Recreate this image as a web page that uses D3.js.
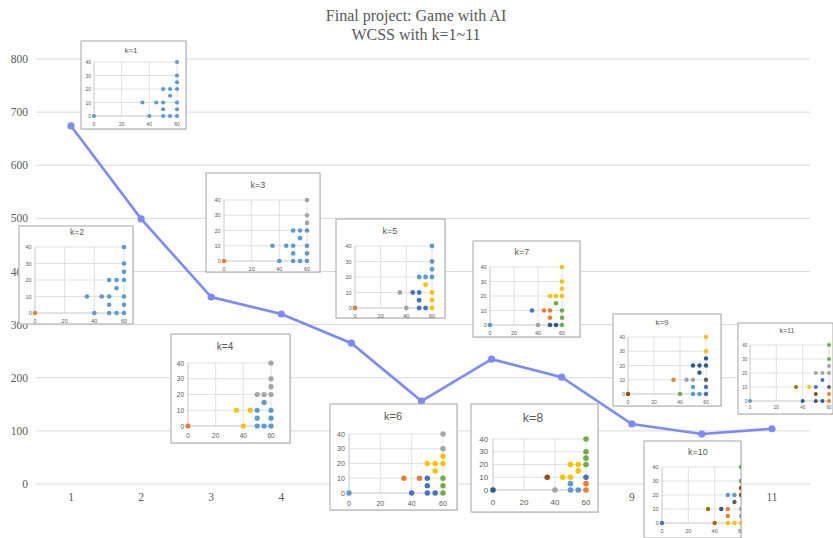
<!DOCTYPE html>
<html><head><meta charset="utf-8">
<script src="https://cdn.jsdelivr.net/npm/d3@7"></script>
<style>body{margin:0;background:#fff}svg{display:block}</style>
</head><body>
<svg id="c" width="833" height="538"></svg>
<script>
// ---- data ----
const titleLines = ["Final project: Game with AI", "WCSS with k=1~11"];
const kValues = [1,2,3,4,5,6,7,8,9,10,11];
const wcss = [674,499,352,320,265,156,235,201,113,94,104];
const yTicks = [0,100,200,300,400,500,600,700,800];
// sample points used in each k-means inset
const ptX = [0,35,40,45,50,50,50,50,55,55,55,60,60,60,60,60,60,60];
const ptY = [0,10,0,10,20,10,5,0,20,15,0,40,30,25,20,10,5,0];
const insetXTicks = [0,20,40,60];
const insetYTicks = [0,10,20,30,40];
// cluster label of each point for k = 1..11
const clusters = [
  [0,0,0,0,0,0,0,0,0,0,0,0,0,0,0,0,0,0],
  [1,0,0,0,0,0,0,0,0,0,0,0,0,0,0,0,0,0],
  [1,0,0,0,0,0,0,0,0,0,0,2,2,2,0,0,0,0],
  [1,3,3,3,2,0,0,0,2,0,0,2,2,2,2,0,0,0],
  [1,2,2,4,0,4,4,4,0,3,4,0,0,0,0,3,3,3],
  [0,1,4,1,3,4,4,4,3,3,4,2,2,3,3,5,5,5],
  [0,4,2,1,3,1,1,6,3,5,6,3,3,3,3,5,5,5],
  [6,7,2,3,3,3,0,0,3,3,0,5,5,5,5,4,1,1],
  [7,1,5,2,6,2,0,0,6,6,0,3,3,6,6,8,4,4],
  [4,9,9,6,0,1,1,3,0,8,3,5,5,7,7,2,2,3],
  [0,9,6,3,2,4,7,6,2,4,6,5,5,2,2,8,1,1]
];

// ---- styles / layout ----
const palette = ["#5B9BD5","#ED7D31","#A5A5A5","#FFC000","#4472C4","#70AD47","#255E91","#9E480E","#636363","#997300"];
// box [x,y,w,h], plot [x0,x60,y40,y0], title [cx,cy], title font, tick font, dot radius
const insetLayout = [
  {box:[81,41,105,88],  plot:[94,177,62,116],  t:[131,50],  tf:8,   kf:5,   r:2.1},
  {box:[19,226,114,98], plot:[35,124,247,313], t:[77,232],  tf:8.5, kf:5.5, r:2.3},
  {box:[206,173,114,99],plot:[224,307,200,261],t:[258,185], tf:9,   kf:5.5, r:2.3},
  {box:[171,334,119,109],plot:[188,271,363,426],t:[225,346],tf:10,  kf:6.5, r:2.6},
  {box:[336,219,109,99],plot:[355,432,246,308],t:[390,231], tf:9,   kf:5.5, r:2.4},
  {box:[330,404,127,106],plot:[349,443,434,493],t:[393,416],tf:11,  kf:7,   r:2.7},
  {box:[473,241,107,96],plot:[490,562,267,325],t:[522,252], tf:9,   kf:5.5, r:2.3},
  {box:[471,404,127,108],plot:[493,586,439,490],t:[533,418],tf:12.5,kf:8,   r:2.8},
  {box:[613,314,108,92],plot:[628,706,337,394],t:[662,322], tf:8,   kf:5,   r:2.2},
  {box:[644,441,97,97], plot:[662,741,467,523],t:[698,452], tf:9,   kf:5.5, r:2.2},
  {box:[738,323,95,91], plot:[750,829,345,401],t:[787,330], tf:7,   kf:4.5, r:2}
];

const svg = d3.select("#c");
const serif = "'Liberation Serif','Times New Roman',serif";
const sans = "'Liberation Sans',Arial,sans-serif";

// title
svg.append("text").attr("x",416).attr("y",21).attr("text-anchor","middle")
  .attr("font-family",serif).attr("font-size",16).attr("fill","#595959").text(titleLines[0]);
svg.append("text").attr("x",416).attr("y",40).attr("text-anchor","middle")
  .attr("font-family",serif).attr("font-size",16).attr("fill","#595959").text(titleLines[1]);

const y = d3.scaleLinear().domain([0,800]).range([484,59]);
const x = d3.scalePoint().domain(kValues).range([71,772]);

// gridlines
svg.append("g").selectAll("line").data(yTicks).join("line")
  .attr("x1",36).attr("x2",810).attr("y1",d=>y(d)).attr("y2",d=>y(d))
  .attr("stroke","#d9d9d9").attr("stroke-width",1);

// y labels
svg.append("g").selectAll("text").data(yTicks).join("text")
  .attr("x",28).attr("y",d=>y(d)+4).attr("text-anchor","end")
  .attr("font-family",serif).attr("font-size",11.5).attr("fill","#595959").text(d=>d);
// x labels
svg.append("g").selectAll("text").data(kValues).join("text")
  .attr("x",d=>x(d)).attr("y",501).attr("text-anchor","middle")
  .attr("font-family",serif).attr("font-size",11.5).attr("fill","#595959").text(d=>d);

// line
const lineData = kValues.map((k,i)=>({k, v:wcss[i]}));
svg.append("path").datum(lineData)
  .attr("d", d3.line().x(d=>x(d.k)).y(d=>y(d.v)))
  .attr("fill","none").attr("stroke","#7B8BFA").attr("stroke-width",2.6);
svg.append("g").selectAll("circle").data(lineData).join("circle")
  .attr("cx",d=>x(d.k)).attr("cy",d=>y(d.v)).attr("r",3.6).attr("fill","#7B8BFA");

// insets
const defs = svg.append("defs");
insetLayout.forEach((L,i)=>{
  const [bx,by,bw,bh] = L.box;
  defs.append("clipPath").attr("id","clip"+i).append("rect")
    .attr("x",bx).attr("y",by).attr("width",bw).attr("height",bh);
  const g = svg.append("g");
  g.append("rect").attr("x",bx+1).attr("y",by+1).attr("width",bw).attr("height",bh).attr("fill","#e6e6e6");
  g.append("rect").attr("x",bx).attr("y",by).attr("width",bw).attr("height",bh)
    .attr("fill","#fff").attr("stroke","#a6a6a6").attr("stroke-width",1);
  const gi = g.append("g").attr("clip-path","url(#clip"+i+")");
  const sx = d3.scaleLinear().domain([0,60]).range([L.plot[0],L.plot[1]]);
  const sy = d3.scaleLinear().domain([0,40]).range([L.plot[3],L.plot[2]]);
  gi.append("text").attr("x",L.t[0]).attr("y",L.t[1]).attr("dominant-baseline","central")
    .attr("text-anchor","middle").attr("font-family",sans).attr("font-size",L.tf)
    .attr("fill","#595959").text("k="+kValues[i]);
  gi.selectAll(".hg").data(insetYTicks.filter(d=>d>0)).join("line")
    .attr("x1",sx(0)).attr("x2",sx(60)).attr("y1",d=>sy(d)).attr("y2",d=>sy(d))
    .attr("stroke","#d9d9d9").attr("stroke-width",0.8);
  gi.selectAll(".vg").data(insetXTicks.filter(d=>d>0)).join("line")
    .attr("y1",sy(0)).attr("y2",sy(40)).attr("x1",d=>sx(d)).attr("x2",d=>sx(d))
    .attr("stroke","#d9d9d9").attr("stroke-width",0.8);
  gi.append("line").attr("x1",sx(0)).attr("x2",sx(60)).attr("y1",sy(0)).attr("y2",sy(0))
    .attr("stroke","#bfbfbf").attr("stroke-width",0.9);
  gi.append("line").attr("x1",sx(0)).attr("x2",sx(0)).attr("y1",sy(0)).attr("y2",sy(40))
    .attr("stroke","#bfbfbf").attr("stroke-width",0.9);
  gi.selectAll(".yl").data(insetYTicks).join("text")
    .attr("x",sx(0)-L.kf*0.6).attr("y",d=>sy(d)).attr("dominant-baseline","central")
    .attr("text-anchor","end").attr("font-family",sans).attr("font-size",L.kf)
    .attr("fill","#595959").text(d=>d);
  gi.selectAll(".xl").data(insetXTicks).join("text")
    .attr("x",d=>sx(d)).attr("y",sy(0)+L.kf*1.5).attr("dominant-baseline","central")
    .attr("text-anchor","middle").attr("font-family",sans).attr("font-size",L.kf)
    .attr("fill","#595959").text(d=>d);
  gi.selectAll(".pt").data(ptX.map((px,j)=>({px,py:ptY[j],c:clusters[i][j]}))).join("circle")
    .attr("cx",d=>sx(d.px)).attr("cy",d=>sy(d.py)).attr("r",L.r)
    .attr("fill",d=>palette[d.c]);
});
</script>
</body></html>
